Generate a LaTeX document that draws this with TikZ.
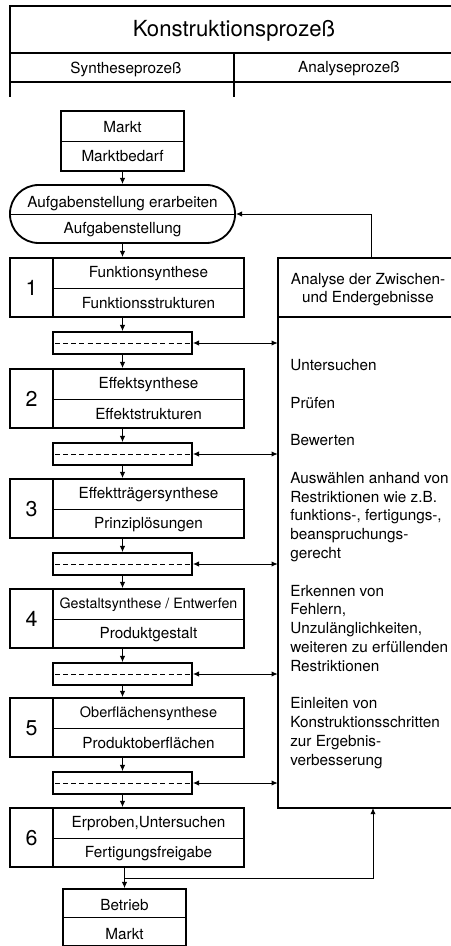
\documentclass[tikz,border=0pt]{standalone}
\usepackage{fontspec}
\setmainfont{TeX Gyre Heros}
\usepackage{tikz}
\usetikzlibrary{arrows.meta}

\begin{document}
\begin{tikzpicture}[x=0.023cm, y=-0.023cm,
        font=\fontsize{10}{12}\selectfont,
        box/.style={draw=black, line width=1.2pt, inner sep=0pt},
        divider/.style={line width=0.6pt},
        hdr/.style={line width=0.9pt},
        arr/.style={-{Latex[length=4pt, width=3.5pt]}, line width=0.6pt},
        dblarr/.style={{Latex[length=4pt, width=3.5pt]}-{Latex[length=4pt, width=3.5pt]}, line width=0.6pt},
        stepbox/.style={box, minimum width=5.382cm, minimum height=1.357cm},
        checkbox/.style={box, minimum width=3.197cm, minimum height=0.506cm},
        marktbox/.style={box, minimum width=2.829cm, minimum height=1.38cm},
        numlabel/.style={font=\fontsize{14}{16}\selectfont}]

        \useasboundingbox (0,0) rectangle (451,946);

        % Kopf
        \draw[hdr] (451,6) -- (10,6) -- (10,97);
        \draw[hdr] (10,53) -- (451,53);
        \draw[hdr] (10,82) -- (451,82);
        \draw[hdr] (234,53) -- (234,97);

        \node[font=\fontsize{14.5}{17}\selectfont] (title) at (234,31)
        {Konstruktionsprozeß};
        \node (synhead) at (126,69) {Syntheseprozeß};
        \node (anahead) at (349,69) {Analyseprozeß};

        % Markt oben
        \node[marktbox] (markt) at (122.5,141) {};
        \draw[divider] (markt.west) -- (markt.east);
        \node (markttop) at (122.5,127) {Markt};
        \node (marktbed) at (122.5,156) {Marktbedarf};

        % Aufgabenstellung
        \node[box, rounded corners=0.66cm,
            minimum width=5.175cm,
            minimum height=1.334cm]
        (task) at (122.5,214) {};
        \draw[divider] (task.west) -- (task.east);
        \node (tasktop) at (122.5,204) {Aufgabenstellung erarbeiten};
        \node (taskres) at (122.5,230) {Aufgabenstellung};

        % Syntheseschritte
        \foreach \n/\y/\syn/\res in {
            1/258/Funktionsynthese/Funktionsstrukturen,
            2/369/Effektsynthese/Effektstrukturen,
            3/479/Effektträgersynthese/Prinziplösungen,
            4/589/{\fontsize{9.3}{11}\selectfont Gestaltsynthese / Entwerfen}/Produktgestalt,
            5/698/{\fontsize{9.5}{11}\selectfont Oberflächensynthese}/Produktoberflächen,
            6/808/{Erproben,Untersuchen}/Fertigungsfreigabe}
        {
            \node[stepbox] (step\n) at (127,\y+29.5) {};
            \draw[line width=1.2pt] (53,\y) -- (53,\y+59);
            \draw[divider] (53,\y+30) -- (244,\y+30);
            \node[numlabel] (num\n) at (31.5,\y+30) {\n};
            \node (syn\n) at (148.5,\y+16) {\syn};
            \node (res\n) at (148.5,\y+45.5) {\res};
        }

        % Analyse
        \node[minimum width=3.979cm, minimum height=12.65cm] (ana) at (364.5,533) {};
        \draw[box] (ana.north east) -- (ana.north west) -- (ana.south west) -- (ana.south east);
        \draw[box] (278,317) -- (451,317);
        \node[align=center] (anahdr) at (368,289.5)
        {Analyse der Zwischen-\\und Endergebnisse};

        \node[anchor=north west, align=left, inner sep=0pt,
            font=\fontsize{10}{12.3}\selectfont]
        (analist) at (290,359)
        {Untersuchen\\[12.3pt]
         Prüfen\\[12.3pt]
         Bewerten\\[12.3pt]
         Auswählen anhand von\\
         Restriktionen wie z.B.\\
         funktions-, fertigungs-,\\
         beanspruchungs-\\
         gerecht\\[12.3pt]
         Erkennen von\\
         Fehlern,\\
         Unzulänglichkeiten,\\
         weiteren zu erfüllenden\\
         Restriktionen\\[12.3pt]
         Einleiten von\\
         Konstruktionsschritten\\
         zur Ergebnis-\\
         verbesserung};

        % Zwischenergebnisse
        \foreach \n/\y in {1/258, 2/369, 3/479, 4/589, 5/698}
        {
            \node[checkbox] (chk\n) at (122.5,\y+85) {};
            \draw[divider, dash pattern=on 3.3pt off 2pt]
            ([xshift=2pt]chk\n.west) -- ([xshift=-2pt]chk\n.east);
            \draw[dblarr] (chk\n.east) -- (chk\n.east -| ana.west);
        }

        \foreach \n/\m in {1/2, 2/3, 3/4, 4/5, 5/6}
        {
            \draw[arr] (chk\n.north |- step\n.south) -- (chk\n.north);
            \draw[arr] (chk\n.south) -- (chk\n.south |- step\m.north);
        }

        % Markt unten
        \node[box, minimum width=2.829cm, minimum height=1.311cm]
        (betrieb) at (124.5,917.5) {};
        \draw[divider] (betrieb.west) -- (betrieb.east);
        \node (betrtop) at (124.5,905) {Betrieb};
        \node (betrmarkt) at (124.5,934) {Markt};

        % Verbindungen
        \draw[arr] (markt.south) -- (markt.south |- task.north);
        \draw[arr] (task.south) -- (task.south |- step1.north);
        \draw[arr] (betrieb.north |- step6.south) -- (betrieb.north);

        \coordinate (fbtop) at (371,258);
        \coordinate (fbbot) at (373,808);
        \coordinate (split) at (124.5,878);
        \draw[arr] (fbtop) |- (task.east);
        \draw[arr] (split) -| (fbbot);
\end{tikzpicture}
\end{document}
